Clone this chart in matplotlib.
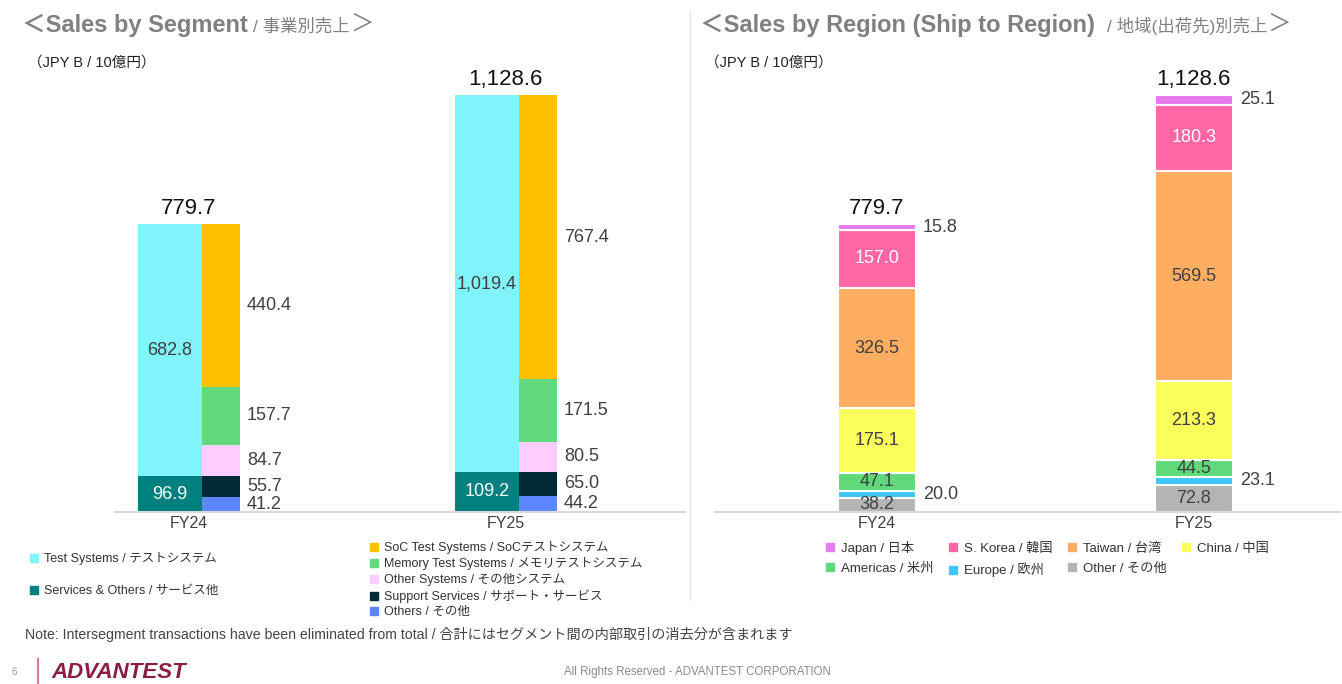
import matplotlib
matplotlib.use("Agg")
import matplotlib.pyplot as plt
from matplotlib.lines import Line2D

FONT = ['Liberation Sans', 'Noto Sans CJK JP']
plt.rcParams['font.family'] = FONT

# Werte (JPY B)
YEARS = ['FY24', 'FY25']

# Segmente
SEG_TOTAL = [779.7, 1128.6]
TEST_SYSTEMS = [682.8, 1019.4]
SERVICES = [96.9, 109.2]
SOC = [440.4, 767.4]
MEMORY = [157.7, 171.5]
OTHER_SYSTEMS = [84.7, 80.5]
SUPPORT = [55.7, 65.0]
OTHERS = [41.2, 44.2]

# Regionen
REG_TOTAL = [779.7, 1128.6]
JAPAN = [15.8, 25.1]
KOREA = [157.0, 180.3]
TAIWAN = [326.5, 569.5]
CHINA = [175.1, 213.3]
AMERICAS = [47.1, 44.5]
EUROPE = [20.0, 23.1]
OTHER_REG = [38.2, 72.8]

W, H = 1342, 684
DARK = '#404040'


def px_rect(x0, x1, y_top, y_bottom):
    return [x0 / W, 1 - y_bottom / H, (x1 - x0) / W, (y_bottom - y_top) / H]


def style_axes(ax, xlim):
    ax.set_xlim(*xlim)
    ax.set_ylim(0, 1200)
    for s in ['top', 'right', 'left']:
        ax.spines[s].set_visible(False)
    ax.spines['bottom'].set_color('#D9D9D9')
    ax.spines['bottom'].set_linewidth(1.5)
    ax.set_yticks([])
    ax.set_xticks(range(len(YEARS)), YEARS)
    ax.tick_params(axis='x', length=0, pad=3, labelsize=11.5, labelcolor=DARK)
    ax.patch.set_alpha(0)


def fmt(v):
    return f"{v:,.1f}"


fig = plt.figure(figsize=(W / 100, H / 100), dpi=100)

# Overlay in Pixelkoordinaten für Titel, Fußzeile etc.
ov = fig.add_axes([0, 0, 1, 1])
ov.set_xlim(0, W)
ov.set_ylim(H, 0)
ov.axis('off')

# ---------------- Segmente ----------------
ax1 = fig.add_axes(px_rect(115, 685, 69, 512))
style_axes(ax1, (-0.233, 1.565))

SPLIT = 0.041
LW = 0.202
RW = 0.12
xs = range(len(YEARS))

left_stack = [(SERVICES, '#00807F', 'white'), (TEST_SYSTEMS, '#80F4FA', DARK)]
right_stack = [(OTHERS, '#5B86FF'), (SUPPORT, '#022A36'), (OTHER_SYSTEMS, '#FFCCFF'),
               (MEMORY, '#62D97C'), (SOC, '#FFC000')]

for i in xs:
    b = 0
    for vals, col, tcol in left_stack:
        ax1.bar(i + SPLIT, vals[i], width=-LW, bottom=b, align='edge', color=col)
        ax1.text(i + SPLIT - LW / 2, b + vals[i] / 2, fmt(vals[i]), ha='center', va='center',
                 fontsize=13, color=tcol)
        b += vals[i]
    b = 0
    for vals, col in right_stack:
        ax1.bar(i + SPLIT, vals[i], width=RW, bottom=b, align='edge', color=col)
        ax1.annotate(fmt(vals[i]), (i + SPLIT + RW, b + vals[i] / 2), xytext=(5, 0),
                     textcoords='offset points', ha='left', va='center', fontsize=13, color=DARK)
        b += vals[i]
    ax1.annotate(fmt(SEG_TOTAL[i]), (i, SEG_TOTAL[i]), xytext=(0, 4), textcoords='offset points',
                 ha='center', va='bottom', fontsize=16, color='#111111')

# ---------------- Regionen ----------------
ax2 = fig.add_axes(px_rect(715, 1340, 69, 512))
style_axes(ax2, (-0.511, 1.461))

BW = 0.246
region_stack = [(OTHER_REG, '#B4B4B4', DARK, False), (EUROPE, '#3FC6FF', DARK, True),
                (AMERICAS, '#5FD97A', DARK, False), (CHINA, '#FAFF5C', DARK, False),
                (TAIWAN, '#FFAD60', DARK, False), (KOREA, '#FF66A6', 'white', False),
                (JAPAN, '#E57BEE', DARK, True)]

for i in xs:
    b = 0
    for vals, col, tcol, outside in region_stack:
        ax2.bar(i, vals[i], width=BW, bottom=b, color=col, edgecolor='white', linewidth=1.5)
        if outside:
            ax2.annotate(fmt(vals[i]), (i + BW / 2, b + vals[i] / 2), xytext=(5, 0),
                         textcoords='offset points', ha='left', va='center', fontsize=13, color=DARK)
        else:
            ax2.text(i, b + vals[i] / 2, fmt(vals[i]), ha='center', va='center', fontsize=13, color=tcol)
        b += vals[i]
    ax2.annotate(fmt(REG_TOTAL[i]), (i, REG_TOTAL[i]), xytext=(0, 4), textcoords='offset points',
                 ha='center', va='bottom', fontsize=16, color='#111111')

# ---------------- Titel ----------------
def title(x, y, main, sub):
    t1 = ov.text(x, y, '＜' + main, fontsize=17, weight='bold', color='#808080', va='center')
    t2 = ov.annotate(sub, xy=(1, 0.08), xycoords=t1, xytext=(4, 0), textcoords='offset points',
                     fontsize=12.5, color='#808080', va='bottom')
    ov.annotate('＞', xy=(1, 0), xycoords=t2, xytext=(0, -1), textcoords='offset points',
                fontsize=17, color='#808080', va='bottom')


title(22, 25, 'Sales by Segment', '/ 事業別売上')
title(700, 25, 'Sales by Region (Ship to Region) ', '/ 地域(出荷先)別売上')

ov.text(28, 63, '（JPY B / 10億円）', fontsize=10.5, color='#222222', va='center')
ov.text(705, 63, '（JPY B / 10億円）', fontsize=10.5, color='#222222', va='center')

ov.plot([690, 690], [10, 600], color='#E3E3E3', lw=1)

# ---------------- Legenden ----------------
def handle(c):
    return Line2D([], [], marker='s', linestyle='None', markersize=6, color=c)


leg_kw = dict(frameon=False, labelcolor='#333333', loc='upper left',
              borderaxespad=0, borderpad=0, handlelength=0.8, handletextpad=0.4)

fig.legend([handle('#80F4FA'), handle('#00807F')],
           ['Test Systems / テストシステム', 'Services & Others / サービス他'],
           bbox_to_anchor=(29 / W, 1 - 552 / H), labelspacing=1.6, fontsize=9, **leg_kw)
fig.legend([handle(c) for c in ['#FFC000', '#62D97C', '#FFCCFF', '#022A36', '#5B86FF']],
           ['SoC Test Systems / SoCテストシステム', 'Memory Test Systems / メモリテストシステム',
            'Other Systems / その他システム', 'Support Services / サポート・サービス',
            'Others / その他'],
           bbox_to_anchor=(369 / W, 1 - 541 / H), labelspacing=0.25, fontsize=9, **leg_kw)
reg_labels = ['Japan / 日本', 'Americas / 米州', 'S. Korea / 韓国', 'Europe / 欧州',
              'Taiwan / 台湾', 'Other / その他', 'China / 中国']
reg_cols = ['#E57BEE', '#5FD97A', '#FF66A6', '#3FC6FF', '#FFAD60', '#B4B4B4', '#FAFF5C']
fig.legend([handle(c) for c in reg_cols], reg_labels, ncol=4, columnspacing=1.1,
           bbox_to_anchor=(825 / W, 1 - 541 / H), labelspacing=0.55, fontsize=9.5, **leg_kw)

# ---------------- Fußzeile ----------------
ov.text(25, 634, 'Note: Intersegment transactions have been eliminated from total / '
        '合計にはセグメント間の内部取引の消去分が含まれます', fontsize=10.2, color='#444444', va='center')
ov.text(14, 672, '6', fontsize=7, color='#999999', va='center', ha='center')
ov.plot([38, 38], [659, 684], color='#D77A99', lw=1.5)
ov.text(51, 672, 'ADVANTEST', fontsize=16, weight='bold', style='italic', color='#8C1D40', va='center')
ov.text(697, 672, 'All Rights Reserved - ADVANTEST CORPORATION', fontsize=8.3, color='#8A8A8A',
        va='center', ha='center')

fig.savefig('out.png', dpi=100)
